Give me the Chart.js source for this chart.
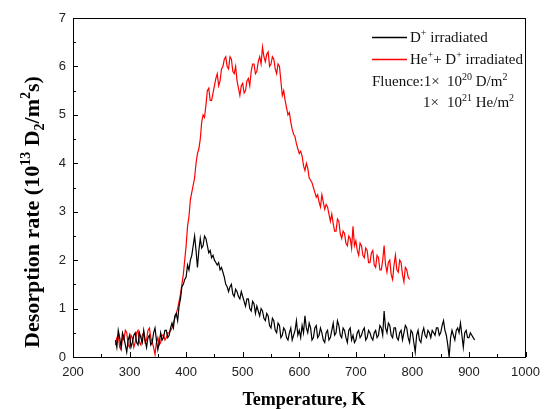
<!DOCTYPE html>
<html>
<head>
<meta charset="utf-8">
<script src="https://cdn.jsdelivr.net/npm/chart.js@4/dist/chart.umd.min.js"></script>
<style>
html,body{margin:0;padding:0;background:#fff;}
#wrap{width:548px;height:409px;position:relative;}
</style>
</head>
<body>
<div id="wrap"><canvas id="c" width="548" height="409"></canvas></div>
<script>
const temperatures = [
275,277.5,280,282.5,285,287.5,290,292.5,295,297.5,300,302.5,305,307.5,310,312.5,315,317.5,320,322.5,
325,327.5,330,332.5,335,337.5,340,342.5,345,347.5,350,352.5,355,357.5,360,362.5,365,367.5,370,372.5,
375,377.5,380,382.5,385,387.5,390,392.5,395,397.5,400,402.5,405,407.5,410,412.5,415,417.5,420,422.5,
425,427.5,430,432.5,435,437.5,440,442.5,445,447.5,450,452.5,455,457.5,460,462.5,465,467.5,470,472.5,
475,477.5,480,482.5,485,487.5,490,492.5,495,497.5,500,502.5,505,507.5,510,512.5,515,517.5,520,522.5,
525,527.5,530,532.5,535,537.5,540,542.5,545,547.5,550,552.5,555,557.5,560,562.5,565,567.5,570,572.5,
575,577.5,580,582.5,585,587.5,590,592.5,595,597.5,600,602.5,605,607.5,610,612.5,615,617.5,620,622.5,
625,627.5,630,632.5,635,637.5,640,642.5,645,647.5,650,652.5,655,657.5,660,662.5,665,667.5,670,672.5,
675,677.5,680,682.5,685,687.5,690,692.5,695,697.5,700,702.5,705,707.5,710,712.5,715,717.5,720,722.5,
725,727.5,730,732.5,735,737.5,740,742.5,745,747.5,750,752.5,755,757.5,760,762.5,765,767.5,770,772.5,
775,777.5,780,782.5,785,787.5,790,792.5,795,797.5,800,802.5,805,807.5,810,812.5,815,817.5,820,822.5,
825,827.5,830,832.5,835,837.5,840,842.5,845,847.5,850,852.5,855,857.5,860,862.5,865,867.5,870,872.5,
875,877.5,880,882.5,885,887.5,890,892.5,895,897.5,900,902.5,905,907.5,910];

const dIrradiated = [
0.35,0.2,0.55,0.4,0.2,0.5,0.4,0.25,0.1,0.35,0.45,0.2,0.3,0.45,0.5,0.3,0.25,0.5,0.4,0.3,
0.55,0.35,0.2,0.4,0.45,0.25,0.3,0.5,0.6,0.35,0.15,0.3,0.5,0.35,0.4,0.55,0.55,0.4,0.45,0.6,
0.7,0.6,0.85,0.9,0.75,1.05,1.2,1.45,1.5,1.6,1.65,1.9,1.8,2.0,2.1,2.3,2.5,2.2,1.85,2.2,
2.45,2.25,2.3,2.5,2.45,2.3,2.15,2.2,2.05,2.1,2.0,1.95,1.9,1.95,1.8,1.85,1.75,1.65,1.5,1.45,
1.35,1.45,1.5,1.3,1.25,1.4,1.35,1.25,1.2,1.35,1.25,1.15,1.05,1.2,1.2,1.0,0.95,1.15,1.1,0.9,
1.05,0.95,0.85,1.0,0.95,0.8,0.75,0.9,0.85,0.65,0.6,0.8,0.75,0.55,0.5,0.7,0.65,0.4,0.45,0.6,
0.55,0.4,0.35,0.5,0.6,0.35,0.45,0.55,0.75,0.45,0.55,0.4,0.65,0.5,0.85,0.6,0.5,0.7,0.6,0.35,
0.4,0.6,0.65,0.4,0.45,0.6,0.5,0.35,0.3,0.5,0.55,0.35,0.4,0.55,0.7,0.45,0.5,0.75,0.65,0.45,
0.4,0.6,0.55,0.4,0.3,0.55,0.6,0.35,0.45,0.3,0.35,0.5,0.55,0.4,0.45,0.55,0.6,0.35,0.4,0.55,
0.5,0.4,0.35,0.5,0.55,0.4,0.45,0.65,0.6,0.45,0.95,0.6,0.5,0.7,0.65,0.45,0.4,0.6,0.6,0.4,
0.35,0.5,0.55,0.35,0.5,0.65,0.6,0.4,0.3,0.55,0.5,0.3,0.1,0.45,0.55,0.35,0.3,0.5,0.6,0.45,
0.4,0.55,0.5,0.4,0.55,0.5,0.45,0.6,0.6,0.45,0.5,0.65,0.75,0.55,0.45,0.25,0.0,0.4,0.55,0.45,
0.35,0.55,0.6,0.5,0.7,0.45,0.2,0.5,0.55,0.4,0.4,0.5,0.45,0.4,0.35];

const heDIrradiated = [
0.25,0.4,0.45,0.2,0.15,0.4,0.35,0.55,0.5,0.25,0.2,0.45,0.4,0.2,0.3,0.5,0.55,0.3,0.25,0.45,
0.5,0.3,0.35,0.55,0.6,0.4,0.3,0.2,0.05,0.3,0.4,0.25,0.3,0.45,0.45,0.35,0.4,0.5,0.5,0.55,
0.6,0.7,0.8,0.9,1.0,1.15,1.3,1.5,1.7,2.0,2.3,2.7,2.9,3.25,3.4,3.55,3.7,4.0,4.2,4.3,
4.5,4.85,5.0,4.95,5.2,5.5,5.55,5.3,5.3,5.45,5.6,5.75,5.85,5.6,5.7,5.95,6.0,6.15,6.2,6.0,
5.95,6.2,6.15,5.9,5.85,6.0,5.7,5.55,5.4,5.6,5.65,5.45,5.5,5.7,5.75,5.6,5.9,6.05,6.05,5.85,
5.9,6.1,6.2,6.05,6.4,6.2,6.1,6.25,6.3,6.0,6.05,6.2,6.15,5.95,5.85,6.05,6.0,5.7,5.4,5.5,
5.3,5.15,5.0,5.05,4.85,4.7,4.6,4.55,4.4,4.3,4.2,4.25,4.15,3.95,3.85,4.0,3.9,3.7,3.65,3.6,
3.5,3.4,3.3,3.35,3.2,3.1,3.35,3.2,3.05,3.15,3.1,2.95,2.8,2.95,2.75,2.6,2.6,2.85,2.8,2.55,
2.45,2.6,2.55,2.35,2.3,2.5,2.45,2.25,2.7,2.3,2.4,2.2,2.1,2.35,2.3,2.1,2.05,2.25,2.2,1.95,
1.95,2.15,2.2,1.9,1.85,2.1,2.05,1.8,1.8,2.0,2.3,1.9,1.75,1.95,2.0,1.7,1.6,1.9,2.1,1.8,
1.75,2.0,1.95,1.7,1.55,1.85,1.8,1.65,1.6];

const xTicks = [200,300,400,500,600,700,800,900,1000];
const yTicks = [0,1,2,3,4,5,6,7];

const SERIF = '"Liberation Serif","Times New Roman",serif';
const SANS = 'Arial, "Liberation Sans", sans-serif';

function richWidth(ctx, parts, size, bold){
  let w = 0;
  for (const p of parts){
    const s = p[1]==='n' ? size : Math.round(size*0.65);
    ctx.font = (bold?'bold ':'') + s + 'px ' + SERIF;
    w += ctx.measureText(p[0]).width;
  }
  return w;
}
function drawRich(ctx, x, y, parts, size, bold){
  ctx.textBaseline = 'alphabetic';
  ctx.textAlign = 'left';
  let cx = x;
  for (const p of parts){
    const s = p[1]==='n' ? size : Math.round(size*0.65);
    ctx.font = (bold?'bold ':'') + s + 'px ' + SERIF;
    let dy = 0;
    if (p[1]==='sup') dy = -size*0.42;
    if (p[1]==='sub') dy = size*0.22;
    ctx.fillText(p[0], cx, y+dy);
    cx += ctx.measureText(p[0]).width;
  }
  return cx;
}

const decor = {
  id:'decor',
  afterDraw(chart){
    const ctx = chart.ctx, a = chart.chartArea;
    const xs = chart.scales.x, ys = chart.scales.y;
    ctx.save();
    ctx.strokeStyle = '#000'; ctx.lineWidth = 1;
    ctx.strokeRect(Math.round(a.left)+0.5, Math.round(a.top)+0.5, Math.round(a.right-a.left)-1, Math.round(a.bottom-a.top));
    ctx.beginPath();
    for (let v=200; v<=1000; v+=50){
      const px = Math.round(xs.getPixelForValue(v))+0.5;
      const len = (v%100===0)?5:3;
      ctx.moveTo(px, a.bottom); ctx.lineTo(px, a.bottom-len);
    }
    for (let v=0; v<=7; v+=0.5){
      const py = Math.round(ys.getPixelForValue(v))+0.5;
      const len = (Math.abs(v-Math.round(v))<1e-6)?5:3;
      ctx.moveTo(a.left, py); ctx.lineTo(a.left+len, py);
    }
    ctx.stroke();

    // legend
    ctx.lineWidth = 1.3;
    ctx.strokeStyle = '#000';
    ctx.beginPath(); ctx.moveTo(372,37.5); ctx.lineTo(407,37.5); ctx.stroke();
    ctx.strokeStyle = '#ff0000';
    ctx.beginPath(); ctx.moveTo(372,59.5); ctx.lineTo(407,59.5); ctx.stroke();
    ctx.fillStyle = '#111';
    drawRich(ctx, 410, 42, [['D','n'],['+','sup'],[' irradiated','n']], 15, false);
    drawRich(ctx, 410, 64, [['He','n'],['+','sup'],['+ D','n'],['+','sup'],[' irradiated','n']], 15, false);
    drawRich(ctx, 372, 86, [['Fluence:1\u00d7','n']], 15, false);
    drawRich(ctx, 447, 86, [['10','n'],['20','sup'],[' D/m','n'],['2','sup']], 15, false);
    drawRich(ctx, 423, 107, [['1\u00d7','n']], 15, false);
    drawRich(ctx, 447, 107, [['10','n'],['21','sup'],[' He/m','n'],['2','sup']], 15, false);

    // x title
    ctx.fillStyle = '#000';
    const xt = [['Temperature, K','n']];
    const xw = richWidth(ctx, xt, 18, true);
    drawRich(ctx, 304 - xw/2, 405, xt, 18, true);

    // y title
    const yt = [['Desorption rate (10','n'],['13','sup'],[' D','n'],['2','sub'],['/m','n'],['2','sup'],['s)','n']];
    const yw = richWidth(ctx, yt, 22, true);
    ctx.translate(39, 212);
    ctx.rotate(-Math.PI/2);
    drawRich(ctx, -yw/2, 0, yt, 22, true);
    ctx.restore();
  }
};

new Chart(document.getElementById('c'), {
  type:'line',
  data:{
    datasets:[
      {label:'D+ irradiated', data: dIrradiated.map((v,i)=>({x:temperatures[i],y:v})),
       borderColor:'#000', borderWidth:1.2, pointRadius:0, tension:0, fill:false},
      {label:'He+ + D+ irradiated', data: heDIrradiated.map((v,i)=>({x:temperatures[i],y:v})),
       borderColor:'#ff0000', borderWidth:1.2, pointRadius:0, tension:0, fill:false}
    ]
  },
  options:{
    responsive:false, animation:false,
    layout:{padding:{left:0,right:14,top:18,bottom:0}},
    plugins:{legend:{display:false}, tooltip:{enabled:false}},
    scales:{
      x:{type:'linear', min:200, max:1000,
         afterBuildTicks(s){ s.ticks = xTicks.map(v=>({value:v})); },
         afterFit(s){ s.height = 52; },
         grid:{display:false, drawTicks:false}, border:{display:false},
         ticks:{padding:8, color:'#222', callback:(v)=>String(v), font:{family:SANS, size:13}}},
      y:{type:'linear', min:0, max:7,
         afterBuildTicks(s){ s.ticks = yTicks.map(v=>({value:v})); },
         afterFit(s){ s.width = 73; },
         grid:{display:false, drawTicks:false}, border:{display:false},
         ticks:{padding:7, color:'#222', callback:(v)=>String(v), font:{family:SANS, size:13}}}
    }
  },
  plugins:[decor]
});
</script>
</body>
</html>
